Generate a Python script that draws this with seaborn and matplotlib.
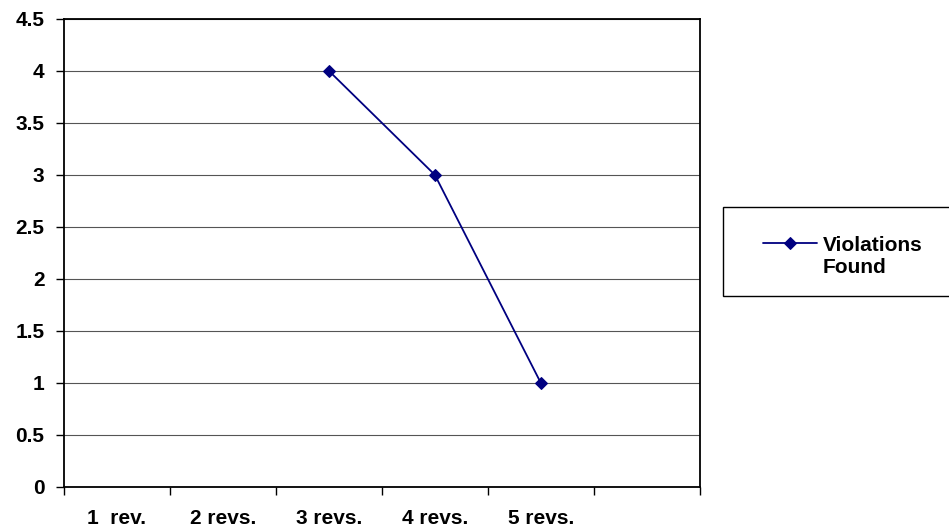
import numpy as np
import pandas as pd
import seaborn as sns
import matplotlib.pyplot as plt
from matplotlib.patches import Rectangle

categories = ["1  rev.", "2 revs.", "3 revs.", "4 revs.", "5 revs.", ""]
violations = [np.nan, np.nan, 4, 3, 1, np.nan]
y_ticks = [0, 0.5, 1, 1.5, 2, 2.5, 3, 3.5, 4, 4.5]
y_labels = ["0", "0.5", "1", "1.5", "2", "2.5", "3", "3.5", "4", "4.5"]

sns.set_style("white")
plt.rcParams['font.family'] = ['Liberation Sans', 'DejaVu Sans']
plt.rcParams['font.weight'] = 'bold'
plt.rcParams['text.color'] = 'black'
plt.rcParams['xtick.color'] = 'black'
plt.rcParams['ytick.color'] = 'black'

df = pd.DataFrame({"pos": np.arange(len(categories)), "Violations\nFound": violations})

fig = plt.figure(figsize=(9.49, 5.29), dpi=100)
ax = fig.add_axes([0.0674, 0.0794, 0.670, 0.885])

sns.lineplot(data=df.dropna(), x="pos", y="Violations\nFound", ax=ax,
             color="#000080", marker="D", markersize=6, linewidth=1.3,
             markeredgecolor="#000080", label="Violations\nFound", legend=False)

ax.set_xlim(-0.5, len(categories) - 0.5)
ax.set_ylim(0, 4.5)
ax.set_yticks(y_ticks)
ax.set_yticklabels(y_labels, fontsize=15, fontweight='bold')
ax.yaxis.grid(True, color="#555555", linewidth=0.8)
ax.set_axisbelow(True)

ax.set_xticks(np.arange(len(categories) + 1) - 0.5)
ax.set_xticklabels([])
ax.set_xticks(np.arange(len(categories)), minor=True)
ax.set_xticklabels(categories, minor=True, fontsize=15, fontweight='bold')
ax.tick_params(axis='x', which='major', direction='out', length=6, width=1, color='black', bottom=True)
ax.tick_params(axis='x', which='minor', length=0, pad=16)
ax.tick_params(axis='y', direction='out', length=6, width=1, color='black', left=True, pad=8)
ax.set_xlabel("")
ax.set_ylabel("")

for s in ax.spines.values():
    s.set_visible(True)
    s.set_color("black")
    s.set_linewidth(1.3)

# legend box (runs off the right edge like the original)
fig.patches.append(Rectangle((723 / 949, 1 - 296 / 529), 240 / 949, 89 / 529,
                             transform=fig.transFigure, facecolor="white",
                             edgecolor="black", linewidth=1.0, zorder=0))

handles, labels = ax.get_legend_handles_labels()
leg = fig.legend(handles, labels, loc="center left", bbox_to_anchor=(763 / 949, 0.516),
                 frameon=False, prop={'size': 15, 'weight': 'bold'}, handlelength=2.6,
                 handletextpad=0.25, borderpad=0, borderaxespad=0,
                 labelspacing=0.2)
for t in leg.get_texts():
    t.set_color("black")
# put the line marker next to the first text line
for col in leg._legend_handle_box.get_children():
    for item in col.get_children():
        item.align = "top"

plt.savefig("out.png", dpi=100)
